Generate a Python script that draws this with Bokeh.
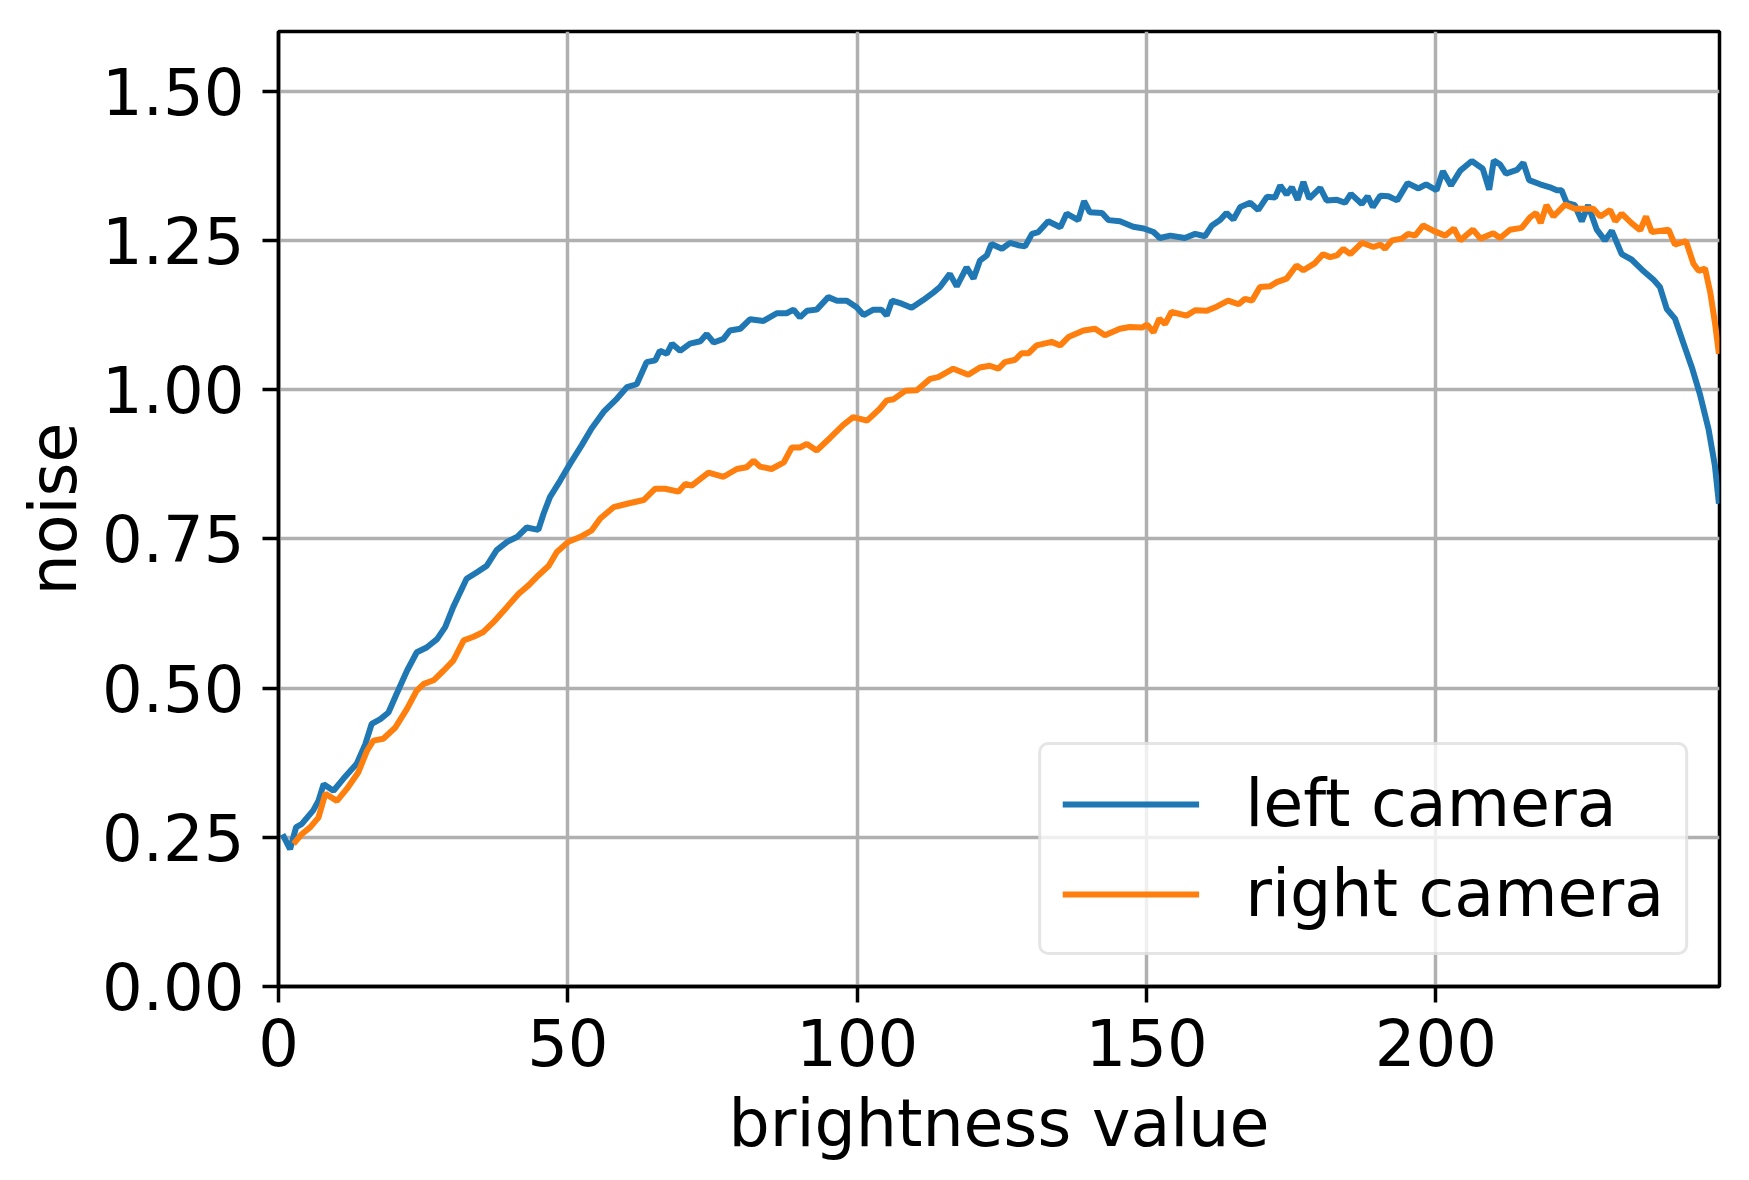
from bokeh.plotting import figure
from bokeh.models import FixedTicker, PrintfTickFormatter, Range1d
from bokeh.embed import file_html
from bokeh.resources import INLINE

left_x = [0.7, 2.0, 3.05, 4.0, 6.0, 6.9, 7.8, 9.5, 11.2, 13.5, 15.0, 16.1, 17.6, 19.0, 20.4, 22.2, 23.9, 25.6, 27.4, 28.8,
          30.2, 32.5, 34.3, 36.0, 37.7, 39.5, 41.2, 42.9, 44.9, 45.8, 46.9, 48.7, 50.4, 52.4, 54.1, 56.2, 58.5, 60.2,
          61.9, 63.6, 65.1, 65.9, 67.1, 68.0, 69.4, 71.1, 72.9, 74.0, 75.2, 76.9, 78.0, 79.8, 81.5, 83.8, 86.1, 87.8,
          89.0, 90.1, 91.3, 93.0, 95.0, 96.5, 98.2, 99.9, 101.1, 102.8, 104.2, 105.1, 106.0, 107.7, 109.4, 111.4, 113.2,
          114.3, 116.0, 117.2, 118.9, 120.1, 121.2, 122.4, 123.2, 125.0, 126.4, 127.8, 129.0, 130.2, 131.3, 133.0,
          135.1, 136.2, 138.2, 139.2, 140.2, 142.3, 143.4, 145.4, 147.7, 149.5, 151.2, 152.3, 154.1, 156.6, 158.4,
          160.1, 161.3, 162.7, 163.8, 165.0, 166.2, 167.9, 169.3, 170.8, 172.2, 173.1, 174.2, 175.1, 176.1, 177.1,
          178.1, 180.0, 181.1, 182.9, 184.3, 185.3, 187.2, 188.2, 189.1, 190.4, 191.8, 193.3, 195.1, 197.0, 198.3,
          200.1, 201.2, 202.6, 204.2, 206.2, 208.1, 209.2, 210.0, 211.1, 212.1, 214.0, 215.1, 216.1, 218.0, 219.7,
          220.9, 221.7, 222.6, 224.0, 225.2, 226.3, 227.8, 229.2, 230.4, 232.1, 233.8, 235.6, 237.6, 238.7, 239.9,
          241.3, 242.8, 244.2, 245.6, 247.1, 248.2, 248.9]
left_y = [0.255, 0.230, 0.267, 0.272, 0.295, 0.311, 0.339, 0.328, 0.348, 0.373, 0.406, 0.440, 0.448, 0.459, 0.490, 0.529,
          0.560, 0.568, 0.582, 0.602, 0.636, 0.683, 0.694, 0.705, 0.731, 0.745, 0.753, 0.769, 0.765, 0.792, 0.820, 0.848,
          0.876, 0.907, 0.935, 0.963, 0.985, 1.004, 1.009, 1.046, 1.049, 1.065, 1.060, 1.077, 1.065, 1.077, 1.081, 1.093,
          1.079, 1.085, 1.099, 1.102, 1.118, 1.115, 1.128, 1.128, 1.134, 1.121, 1.132, 1.134, 1.155, 1.149, 1.149, 1.138,
          1.125, 1.134, 1.134, 1.124, 1.149, 1.144, 1.137, 1.150, 1.163, 1.172, 1.194, 1.173, 1.205, 1.186, 1.216, 1.225,
          1.244, 1.236, 1.246, 1.242, 1.240, 1.261, 1.264, 1.282, 1.272, 1.295, 1.284, 1.316, 1.297, 1.296, 1.284, 1.282,
          1.273, 1.270, 1.264, 1.254, 1.258, 1.254, 1.261, 1.257, 1.275, 1.284, 1.296, 1.285, 1.306, 1.313, 1.301, 1.323,
          1.322, 1.342, 1.327, 1.339, 1.318, 1.348, 1.320, 1.338, 1.317, 1.318, 1.313, 1.328, 1.311, 1.324, 1.306, 1.325,
          1.324, 1.317, 1.346, 1.337, 1.344, 1.334, 1.366, 1.342, 1.367, 1.383, 1.370, 1.335, 1.384, 1.377, 1.362, 1.368,
          1.380, 1.351, 1.344, 1.339, 1.334, 1.334, 1.313, 1.309, 1.282, 1.309, 1.268, 1.250, 1.266, 1.227, 1.218, 1.201,
          1.184, 1.172, 1.135, 1.119, 1.077, 1.038, 0.993, 0.934, 0.873, 0.809]

right_x = [2.6, 4.0, 5.5, 6.9, 8.1, 10.1, 11.8, 13.8, 15.3, 16.4, 18.1, 20.2, 22.2, 23.9, 25.1, 26.8, 28.5, 30.2, 32.0,
           33.7, 35.4, 37.1, 39.5, 41.5, 43.2, 44.6, 46.7, 48.1, 50.1, 52.1, 54.1, 55.6, 57.9, 59.9, 60.8, 63.1, 65.1,
           66.8, 69.1, 70.3, 71.4, 74.3, 76.9, 79.2, 80.9, 82.1, 83.2, 85.2, 87.3, 88.7, 90.1, 91.3, 93.0, 95.3, 97.6,
           99.3, 101.7, 103.9, 105.1, 106.3, 108.3, 110.3, 112.6, 114.0, 116.6, 119.2, 121.2, 122.9, 124.4, 125.5,
           127.3, 128.4, 129.6, 131.0, 133.6, 135.1, 136.5, 139.1, 141.1, 142.8, 145.4, 147.1, 149.2, 150.1, 151.2,
           152.2, 153.2, 154.3, 156.9, 158.4, 160.4, 162.1, 164.1, 165.9, 167.0, 168.2, 169.6, 171.3, 172.5, 174.2,
           175.9, 177.1, 179.1, 180.5, 181.7, 182.9, 184.0, 185.2, 187.2, 189.2, 190.4, 191.2, 192.4, 194.1, 195.2,
           196.4, 197.8, 199.6, 201.6, 203.1, 204.2, 206.4, 207.7, 209.9, 211.1, 212.8, 214.8, 216.3, 217.3, 218.1,
           219.1, 220.3, 222.3, 224.0, 226.1, 227.2, 228.4, 230.1, 231.0, 232.1, 233.8, 235.3, 236.3, 237.3, 240.2,
           241.3, 243.2, 244.5, 245.4, 246.5, 247.4, 248.2, 248.9]
right_y = [0.239, 0.255, 0.267, 0.283, 0.323, 0.311, 0.331, 0.359, 0.395, 0.412, 0.415, 0.434, 0.465, 0.496, 0.507, 0.513,
           0.529, 0.546, 0.580, 0.586, 0.594, 0.610, 0.636, 0.658, 0.672, 0.686, 0.705, 0.728, 0.745, 0.753, 0.764, 0.784,
           0.803, 0.808, 0.810, 0.815, 0.834, 0.834, 0.829, 0.842, 0.839, 0.861, 0.854, 0.867, 0.870, 0.881, 0.871, 0.867,
           0.878, 0.903, 0.903, 0.909, 0.898, 0.919, 0.941, 0.954, 0.948, 0.968, 0.982, 0.984, 0.998, 0.999, 1.018, 1.021,
           1.035, 1.025, 1.037, 1.040, 1.035, 1.046, 1.050, 1.061, 1.061, 1.074, 1.080, 1.074, 1.088, 1.099, 1.102, 1.091,
           1.102, 1.105, 1.104, 1.109, 1.096, 1.119, 1.110, 1.130, 1.124, 1.133, 1.132, 1.139, 1.149, 1.143, 1.152, 1.149,
           1.172, 1.173, 1.180, 1.186, 1.208, 1.200, 1.212, 1.227, 1.222, 1.225, 1.236, 1.227, 1.246, 1.239, 1.243, 1.236,
           1.250, 1.253, 1.261, 1.258, 1.275, 1.266, 1.258, 1.270, 1.250, 1.268, 1.253, 1.262, 1.254, 1.268, 1.271, 1.289,
           1.296, 1.279, 1.309, 1.290, 1.310, 1.303, 1.303, 1.303, 1.290, 1.301, 1.282, 1.295, 1.279, 1.267, 1.290, 1.264,
           1.268, 1.243, 1.249, 1.211, 1.199, 1.203, 1.163, 1.113, 1.060]

x_ticks = [0, 50, 100, 150, 200]
y_ticks = [0.0, 0.25, 0.5, 0.75, 1.0, 1.25, 1.5]

FONT = "DejaVu Sans"
FS = "64px"

p = figure(width=1733, height=1164, output_backend="svg", toolbar_location=None,
           x_range=Range1d(0, 249), y_range=Range1d(0, 1.6),
           min_border_left=278, min_border_right=14, min_border_top=31, min_border_bottom=178)

p.line(left_x, left_y, line_color="#1f77b4", line_width=6, legend_label="left camera")
p.line(right_x, right_y, line_color="#ff7f0e", line_width=6, legend_label="right camera")

p.xaxis.ticker = FixedTicker(ticks=x_ticks)
p.yaxis.ticker = FixedTicker(ticks=y_ticks)
p.yaxis.formatter = PrintfTickFormatter(format="%.2f")
p.xaxis.axis_label = "brightness value"
p.yaxis.axis_label = "noise"

for ax in (p.xaxis, p.yaxis):
    ax.axis_label_text_font = FONT
    ax.axis_label_text_font_size = "65px"
    ax.axis_label_text_font_style = "normal"
    ax.axis_label_text_color = "black"
    ax.major_label_text_font = FONT
    ax.major_label_text_font_size = FS
    ax.major_label_text_color = "black"
    ax.axis_line_color = "black"
    ax.axis_line_width = 3.5
    ax.major_tick_line_color = "black"
    ax.major_tick_line_width = 3.5
    ax.major_tick_out = 16
    ax.major_tick_in = 0
    ax.minor_tick_line_color = None

p.yaxis.major_label_standoff = 18
p.yaxis.axis_label_standoff = 8
p.xaxis.major_label_standoff = 16
p.xaxis.axis_label_standoff = 17

p.grid.grid_line_color = "#b0b0b0"
p.grid.grid_line_width = 3.5
p.outline_line_color = "black"
p.outline_line_width = 3.5
p.outline_line_alpha = 1.0

lg = p.legend[0]
lg.location = "bottom_right"
lg.margin = 31
lg.padding = 21
lg.spacing = 15
lg.glyph_width = 137
lg.glyph_height = 68
lg.label_height = 68
lg.label_standoff = 46
lg.label_text_font = FONT
lg.label_text_font_size = "65px"
lg.label_text_color = "black"
lg.border_line_color = "#cccccc"
lg.border_line_width = 3
lg.background_fill_color = "white"
lg.background_fill_alpha = 0.8
if "border_radius" in lg.properties():
    lg.border_radius = 10

open("out.html", "w").write(file_html(p, INLINE))
